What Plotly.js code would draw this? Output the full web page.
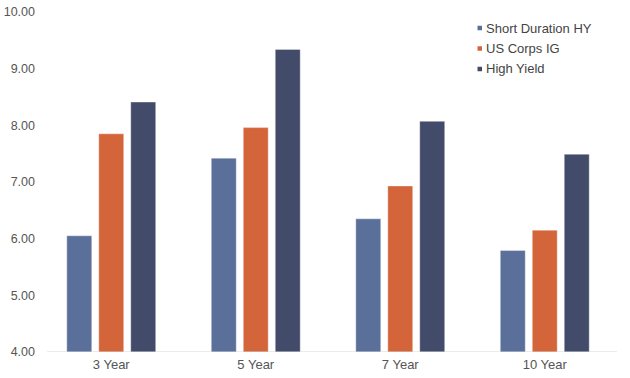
<!DOCTYPE html>
<html>
<head>
<meta charset="utf-8">
<script src="https://cdn.plot.ly/plotly-3.0.1.min.js"></script>
<style>html,body{margin:0;padding:0;background:#fff;}#chart{width:630px;height:378px;}</style>
</head>
<body>
<div id="chart"></div>
<script>
const categories = ["3 Year", "5 Year", "7 Year", "10 Year"];
const seriesNames = ["Short Duration HY", "US Corps IG", "High Yield"];
const shortDurationHY = [6.05, 7.42, 6.35, 5.79];
const usCorpsIG = [7.85, 7.96, 6.93, 6.15];
const highYield = [8.41, 9.34, 8.07, 7.49];
const yTickVals = [4, 5, 6, 7, 8, 9, 10];
const yTickText = ["4.00", "5.00", "6.00", "7.00", "8.00", "9.00", "10.00"];

const colors = ["#5a6f9a", "#d4653b", "#434b6b"];
const values = [shortDurationHY, usCorpsIG, highYield];

const traces = values.map((v, i) => ({
  type: "bar",
  name: seriesNames[i],
  x: categories,
  y: v,
  marker: {color: colors[i], line: {color: "rgba(255,255,255,0.35)", width: 1}},
  showlegend: false,
  hoverinfo: "x+y+name"
}));

const font = "Liberation Sans, Arial, Helvetica, sans-serif";
const annotations = [];
const shapes = [
  {type: "line", xref: "paper", yref: "y", x0: 0.014, x1: 1, y0: 4, y1: 4,
   line: {color: "#d9d9d9", width: 1}}
];
const legendTop = [28, 48.5, 69];
seriesNames.forEach((n, i) => {
  const yp = 1 - (legendTop[i] - 12) / 340;
  annotations.push({
    xref: "paper", yref: "paper", x: (484 - 39) / 578, y: yp,
    xanchor: "left", yanchor: "middle", showarrow: false,
    text: n, font: {family: font, size: 13, color: "#444"}
  });
  shapes.push({
    type: "rect", xref: "paper", yref: "paper",
    x0: (477.5 - 39) / 578, x1: (482 - 39) / 578,
    y0: yp - 2.25 / 340, y1: yp + 2.25 / 340,
    fillcolor: colors[i], line: {width: 0}
  });
});

const layout = {
  width: 630, height: 378,
  margin: {l: 39, r: 13, t: 12, b: 26, pad: 0},
  paper_bgcolor: "#fff", plot_bgcolor: "#fff",
  barmode: "group", bargap: 0.336, bargroupgap: 0.22,
  showlegend: false,
  font: {family: font, size: 12, color: "#555"},
  xaxis: {
    type: "category", showgrid: false, zeroline: false, showline: false,
    ticks: "", tickfont: {family: font, size: 13, color: "#555"}, ticklen: 0,
    ticklabelstandoff: 3
  },
  yaxis: {
    range: [4, 10], tickvals: yTickVals, ticktext: yTickText,
    showgrid: false, zeroline: false, showline: false, ticks: "",
    tickfont: {family: font, size: 12.5, color: "#555"}, ticklabelstandoff: 3
  },
  annotations: annotations,
  shapes: shapes
};

Plotly.newPlot("chart", traces, layout, {displayModeBar: false, staticPlot: true});
</script>
</body>
</html>
